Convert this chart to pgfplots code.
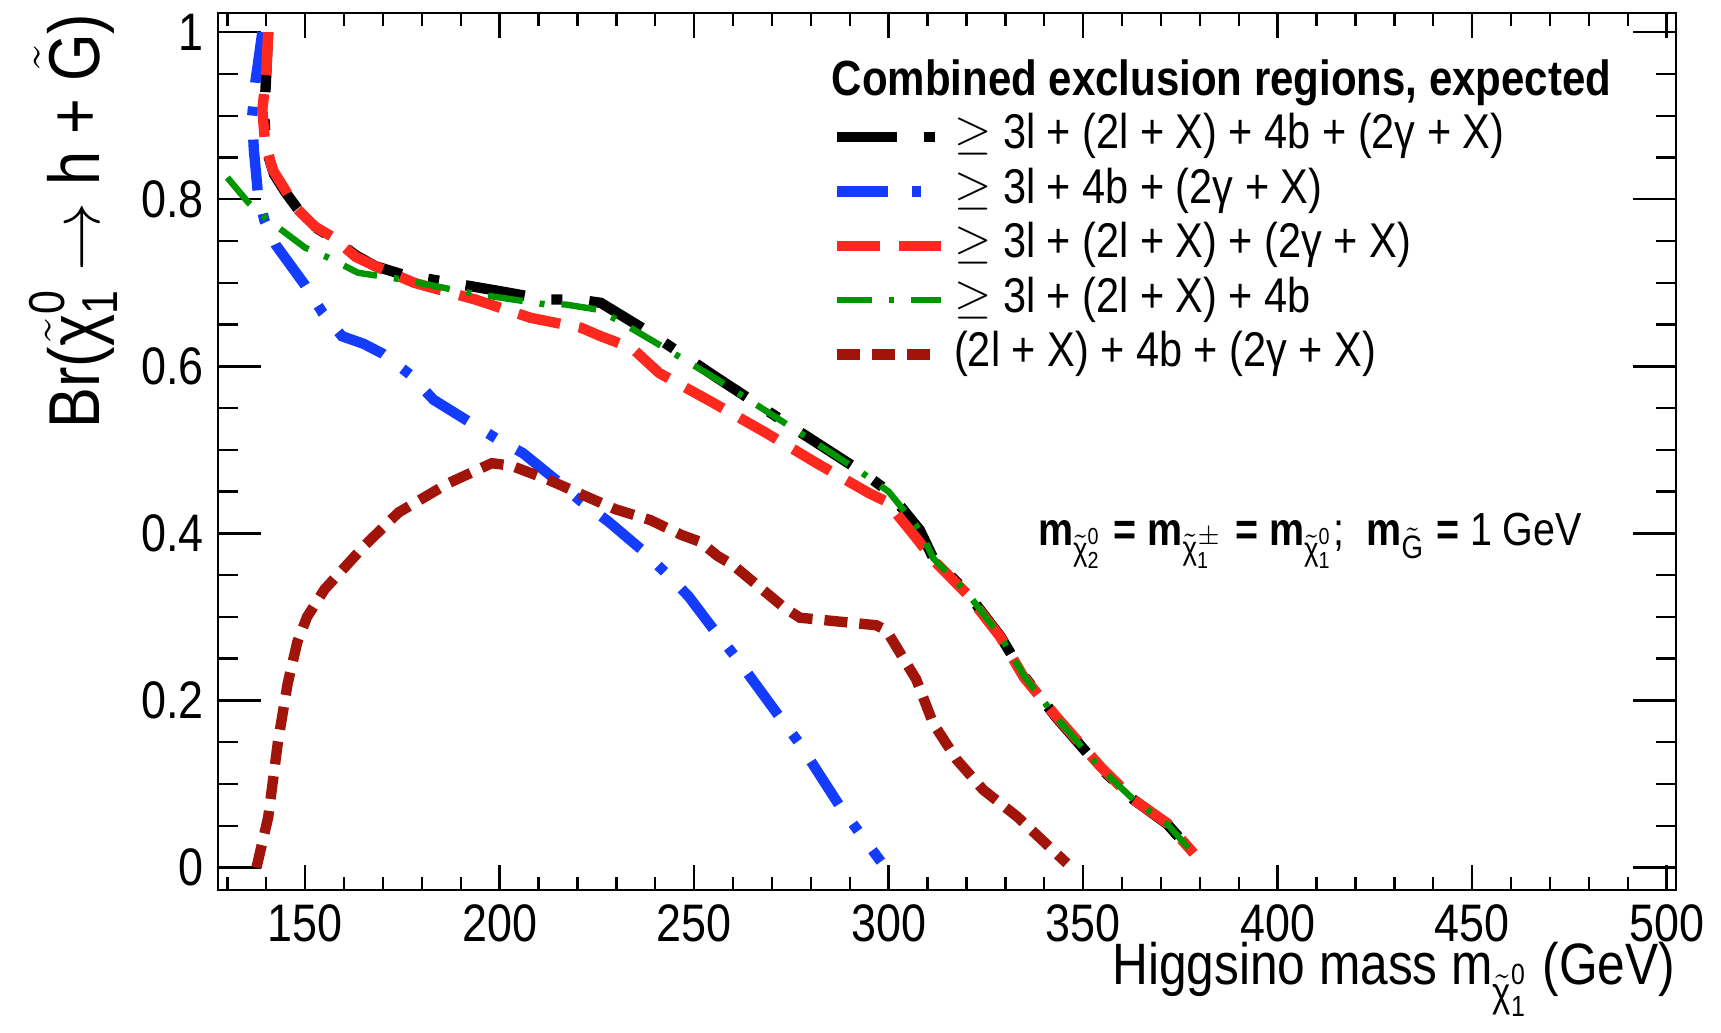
\documentclass[border=0pt]{standalone}
\usepackage{fontspec}
\setmainfont{Liberation Sans}[FakeStretch=0.85]
\usepackage{amsmath}
\usepackage{pgfplots}
\pgfplotsset{compat=1.18}
\definecolor{rblue}{RGB}{20,60,255}
\definecolor{rred}{RGB}{255,40,30}
\definecolor{rgreen}{RGB}{0,150,0}
\definecolor{rbrown}{RGB}{160,20,10}
\newcommand{\chit}[2]{\tilde{\text{χ}}^{\text{#1}}_{\text{#2}}}
\begin{document}
\begin{tikzpicture}
\begin{axis}[name=ax, scale only axis, width=364.5pt, height=219.25pt,
  xmin=127.6, xmax=502.4, ymin=-0.027, ymax=1.023,
  xtick={150,200,250,300,350,400,450,500},
  ytick={0,0.2,0.4,0.6,0.8,1},
  minor xtick={130,140,160,170,180,190,210,220,230,240,260,270,280,290,310,320,330,340,360,370,380,390,410,420,430,440,460,470,480,490,500},
  minor ytick={0.05,0.1,0.15,0.25,0.3,0.35,0.45,0.5,0.55,0.65,0.7,0.75,0.85,0.9,0.95},
  tick align=inside,
  axis line style={line width=0.7pt},
  every tick/.style={black,line width=0.6pt},
  xtick style={/pgfplots/major tick length=6.25pt,/pgfplots/minor tick length=3.25pt},
  ytick style={/pgfplots/major tick length=10.75pt,/pgfplots/minor tick length=5pt},
  /pgf/number format/assume math mode=true,
  ticklabel style={font=\fontsize{13.2}{15}\selectfont},
  yticklabel style={/pgf/number format/fixed},
  xlabel={Higgsino mass m$_{\chit{0}{1}}$ (GeV)},
  xlabel style={font=\fontsize{14.6}{17}\selectfont, at={([yshift=-23.5pt]rel axis cs:1,0)}, anchor=base east, inner sep=0pt},
  ylabel={Br($\chit{0}{1}$ $\rightarrow$ h + $\tilde{\text{G}}$)},
  ylabel style={font=\fontsize{18}{21}\selectfont, at={([xshift=-25pt]rel axis cs:0,1)}, anchor=south east, inner sep=0pt},
  legend style={at={(rel axis cs:0.4204,0.887)}, anchor=north west, draw=none, fill=none,
    inner sep=0pt, row sep=1.6pt, column sep=2pt,
    nodes={inner sep=0pt, text height=9pt, text depth=3pt, font=\fontsize{12.2}{15}\selectfont}},
  legend cell align=left,
  legend image code/.code={\draw[#1] (0pt,0pt) -- (26pt,0pt);},
]
\addplot[black, line width=2.6pt, dash pattern=on 15pt off 6.75pt on 2.75pt off 6.75pt] coordinates {
(140.5,1.0) (140,0.95) (139.5,0.9) (140,0.86) (142,0.83) (145,0.808) (148,0.789) (152,0.768) (157,0.754) (163,0.733) (168,0.72) (175,0.71) (190,0.698) (200,0.69) (212,0.68) (220,0.68) (226,0.676) (238,0.642) (256,0.586) (275,0.528) (293,0.474) (300,0.45) (308,0.404) (311.5,0.37) (320,0.33) (328.7,0.277) (335,0.228) (343,0.18) (354,0.121) (363,0.081) (371.6,0.052) (378.5,0.016)};
\addlegendentry{$\geq$ 3l + (2l + X) + 4b + (2γ + X)}
\addplot[rblue, line width=2.6pt, dash pattern=on 12.75pt off 6pt on 2.25pt off 6pt] coordinates {
(139,1.0) (137.2,0.94) (136.4,0.9) (136.8,0.86) (137.8,0.81) (139.5,0.775) (142.5,0.745) (150,0.697) (154.5,0.664) (159.5,0.636) (165,0.627) (170,0.615) (177,0.59) (183,0.56) (192,0.534) (199,0.514) (206,0.496) (215,0.462) (221,0.438) (228,0.414) (236.6,0.38) (242.6,0.353) (248.5,0.325) (254.5,0.288) (261,0.25) (272,0.18) (277,0.149) (287.5,0.073) (298,0.007)};
\addlegendentry{$\geq$ 3l + 4b + (2γ + X)}
\addplot[rred, line width=2.6pt, dash pattern=on 10.75pt off 4.75pt] coordinates {
(140.5,1.0) (140,0.95) (139,0.907) (139.7,0.868) (141.7,0.835) (144.9,0.811) (147.4,0.791) (152.6,0.767) (157,0.755) (163,0.731) (168,0.72) (178,0.70) (193.7,0.68) (208,0.658) (221,0.646) (226,0.636) (234,0.622) (241,0.592) (255,0.556) (268.6,0.52) (281.5,0.484) (295,0.448) (299.5,0.438) (307,0.395) (311.5,0.368) (320,0.328) (328.7,0.276) (334.7,0.228) (343.2,0.18) (354.4,0.121) (363,0.081) (371.6,0.053) (378.4,0.017)};
\addlegendentry{$\geq$ 3l + (2l + X) + (2γ + X)}
\addplot[rgreen, line width=1.6pt, dash pattern=on 8.75pt off 4.25pt on 1.25pt off 4.25pt] coordinates {
(130,0.826) (135.4,0.796) (139.7,0.778) (150,0.742) (156,0.73) (163.6,0.712) (175,0.704) (192,0.688) (212,0.674) (217,0.674) (225,0.668) (230,0.656) (241.7,0.624) (256,0.584) (275,0.527) (293,0.473) (300,0.45) (308,0.404) (311.5,0.37) (320,0.33) (328.7,0.277) (335,0.228) (343,0.18) (354,0.121) (363,0.081) (371.6,0.052) (378.5,0.016)};
\addlegendentry{$\geq$ 3l + (2l + X) + 4b}
\addplot[rbrown, line width=2.6pt, dash pattern=on 5.75pt off 3pt] coordinates {
(137.5,0.0) (140.5,0.06) (143,0.15) (145.5,0.22) (148,0.27) (150.5,0.30) (155,0.333) (165.4,0.386) (174,0.425) (186.8,0.46) (198,0.484) (203,0.481) (212.6,0.464) (229.7,0.429) (238.7,0.416) (246.8,0.398) (251.5,0.39) (256,0.373) (260,0.362) (272.9,0.312) (277.2,0.299) (296.8,0.29) (299.4,0.284) (307.1,0.225) (311.4,0.173) (317.5,0.129) (324.3,0.093) (333,0.061) (345.8,0.005)};
\addlegendentry{(2l + X) + 4b + (2γ + X)}
\node[anchor=base west, inner sep=0pt, font=\bfseries\fontsize{12.35}{15}\selectfont] at (axis cs:285.2,0.9246) {Combined exclusion regions, expected};
\node[anchor=base west, inner sep=0pt, font=\fontsize{11.6}{14}\selectfont] at (axis cs:338.2,0.386) {\textbf{m}$_{\chit{0}{2}}$ \textbf{=} \textbf{m}$_{\tilde{\text{χ}}^{\pm}_{\text{1}}}$ \textbf{=} \textbf{m}$_{\chit{0}{1}}$;\ \ \textbf{m}$_{\tilde{\text{G}}}$ \textbf{=} 1 GeV};
\end{axis}
\pgfresetboundingbox
\path ([shift={(-54.5pt,-35.5pt)}]ax.south west) rectangle ([shift={(11.25pt,3.25pt)}]ax.north east);
\end{tikzpicture}
\end{document}
